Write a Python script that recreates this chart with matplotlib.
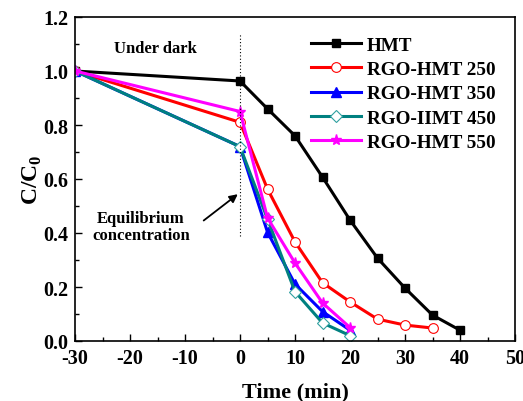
import matplotlib
matplotlib.use("Agg")
import matplotlib.pyplot as plt
from matplotlib.ticker import MultipleLocator

plt.rcParams['font.family'] = ['Liberation Serif', 'DejaVu Serif']
plt.rcParams['font.weight'] = 'bold'
plt.rcParams['axes.unicode_minus'] = False
plt.rcParams['mathtext.fontset'] = 'custom'
plt.rcParams['mathtext.rm'] = 'Liberation Serif:bold'
plt.rcParams['mathtext.bf'] = 'Liberation Serif:bold'

x_hmt = [-30, 0, 5, 10, 15, 20, 25, 30, 35, 40]
y_hmt = [1.0, 0.963, 0.86, 0.76, 0.607, 0.448, 0.307, 0.196, 0.096, 0.04]
x_250 = [-30, 0, 5, 10, 15, 20, 25, 30, 35]
y_250 = [1.0, 0.81, 0.563, 0.367, 0.216, 0.145, 0.081, 0.059, 0.048]
x_350 = [-30, 0, 5, 10, 15, 20]
y_350 = [1.0, 0.72, 0.403, 0.211, 0.109, 0.04]
x_450 = [-30, 0, 5, 10, 15, 20]
y_450 = [1.0, 0.72, 0.452, 0.183, 0.067, 0.02]
x_550 = [-30, 0, 5, 10, 15, 20]
y_550 = [1.0, 0.85, 0.456, 0.289, 0.141, 0.05]

labels = ['HMT', 'RGO-HMT 250', 'RGO-HMT 350', 'RGO-IIMT 450', 'RGO-HMT 550']

fig = plt.figure(figsize=(5.23, 4.02), dpi=100)
ax = fig.add_axes([75/523, 60/402, 440/523, 324/402])

lw = 2.2
ax.plot(x_hmt, y_hmt, color='black', lw=lw, marker='s', ms=6, mfc='black', label=labels[0])
ax.plot(x_250, y_250, color='red', lw=lw, marker='o', ms=7, mfc='white', mec='red', mew=0.8, label=labels[1])
ax.plot(x_350, y_350, color='blue', lw=lw, marker='^', ms=7, mfc='blue', label=labels[2])
ax.plot(x_450, y_450, color='#008080', lw=lw, marker='D', ms=6, mfc='white', mec='#30a0a0', mew=0.8, label=labels[3])
ax.plot(x_550, y_550, color='magenta', lw=lw, marker='*', ms=8, mfc='magenta', label=labels[4])

ax.plot([0, 0], [0.39, 1.14], color='black', lw=0.8, ls=(0, (1, 2)))

ax.text(-15.3, 1.085, 'Under dark', ha='center', va='center', fontsize=12, fontweight='bold')
ax.text(-18, 0.425, 'Equilibrium\nconcentration', ha='center', va='center', fontsize=12,
        fontweight='bold', linespacing=1.1)
ax.annotate('', xy=(0, 0.55), xytext=(-7, 0.44),
            arrowprops=dict(arrowstyle='-|>', color='black', lw=1.3, mutation_scale=12))

ax.set_xlim(-30, 50)
ax.set_ylim(0, 1.2)
ax.xaxis.set_major_locator(MultipleLocator(10))
ax.xaxis.set_minor_locator(MultipleLocator(5))
ax.yaxis.set_major_locator(MultipleLocator(0.2))
ax.yaxis.set_minor_locator(MultipleLocator(0.1))
ax.yaxis.set_major_formatter(matplotlib.ticker.FormatStrFormatter('%.1f'))
ax.tick_params(which='both', direction='in', top=False, right=False, width=1)
ax.tick_params(which='major', length=5, labelsize=14.5)
ax.tick_params(axis='x', which='major', pad=5)
ax.tick_params(axis='y', which='major', pad=5)
ax.tick_params(which='minor', length=3)
for lab in ax.get_xticklabels() + ax.get_yticklabels():
    lab.set_fontweight('bold')
for s in ax.spines.values():
    s.set_linewidth(1.2)

ax.set_xlabel('Time (min)', fontsize=16, fontweight='bold')
ax.set_ylabel('C/C$_\\mathbf{0}$', fontsize=17, fontweight='bold')
ax.xaxis.set_label_coords(0.5, -0.125)
ax.yaxis.set_label_coords(-0.07, 0.5)

leg = ax.legend(loc='upper right', frameon=False, fontsize=13.8, handlelength=2.6,
                handletextpad=0.3, labelspacing=0.36, borderaxespad=0.6,
                bbox_to_anchor=(1.0, 1.0))
for t in leg.get_texts():
    t.set_fontweight('bold')

fig.savefig('out.png', dpi=100)
